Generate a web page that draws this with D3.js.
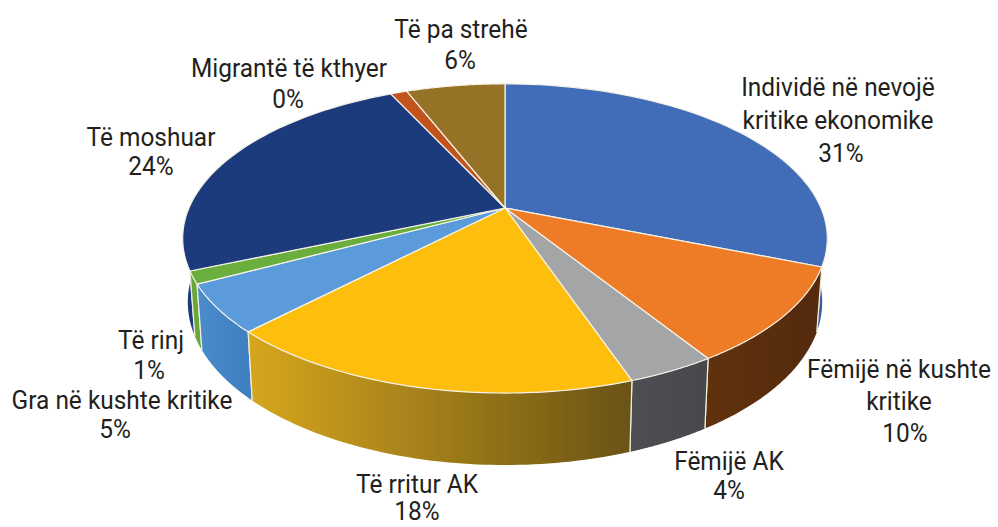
<!DOCTYPE html>
<html><head><meta charset="utf-8">
<script src="https://cdn.jsdelivr.net/npm/d3@7"></script>
<style>html,body{margin:0;padding:0;background:#fff}svg{display:block}
text{font-family:"Roboto","Open Sans",sans-serif;font-size:26px;fill:#231f20;text-anchor:middle}</style>
</head><body><div id="c"></div>
<script>
const categories = ["Individë në nevojë kritike ekonomike","Fëmijë në kushte kritike","Fëmijë AK","Të rritur AK","Gra në kushte kritike","Të rinj","Të moshuar","Migrantë të kthyer","Të pa strehë"];
const values = [31, 10, 3.7, 17.6, 5, 1.3, 24.4, 1, 6];
const percentLabels = ["31%","10%","4%","18%","5%","1%","24%","0%","6%"];
const labelLines = [["Individë në nevojë","kritike ekonomike"],["Fëmijë në kushte","kritike"],["Fëmijë AK"],["Të rritur AK"],["Gra në kushte kritike"],["Të rinj"],["Të moshuar"],["Migrantë të kthyer"],["Të pa strehë"]];
const topColors = ["#3f6cb8","#ee7b27","#a3a5a6","#fdbe10","#5b9bdb","#6bae3d","#1c3b7d","#c2531f","#967228"];
const sideStops = [["#3a5f9f","#3a5f9f"],["#5f3210","#552a0c"],["#4d4f53","#47494d"],["#d6a61f","#6a5314"],["#4a8ccd","#3f7fc0"],["#68a83a","#68a83a"],["#1c3a7c","#1c3a7c"],["#a0441a","#a0441a"],["#7a5c20","#7a5c20"]];
const labelAnchors = [[838,96,33],[899,378,32],[729,470,29],[417,493,27],[122,409,29],[151,349,30],[151,146,29],[289,77,31],[461,38,31]];
const percentOffset = [3,6,0,0,-7,-2,0,-1,-1];

const W=998,H=527,cx=505,cy=208,k=-0.197;
const svg=d3.select("#c").append("svg").attr("width",W).attr("height",H);
const defs=svg.append("defs");
defs.append("filter").attr("id","soft").append("feGaussianBlur").attr("stdDeviation",0.5);
const arcs=d3.pie().sort(null).value(d=>d)(values);
const tx=d3.scaleLinear().domain([-1,1]).range([-316,316]);
const ty=d3.scaleLinear().domain([-1,1]).range([-148.6,148.6]);
const bx=d3.scaleLinear().domain([-1,1]).range([-311,311]);
const by=d3.scaleLinear().domain([-1,1]).range([-156.6,156.6]);
function topPt(a){const u=Math.sin(a),v=-Math.cos(a),d=1+k*v;return [cx+tx(u)/d,cy+ty(v)/d];}
function botPt(a){const u=Math.sin(a),v=-Math.cos(a),d=1+k*v;return [cx+bx(u)/d,cy+62+by(v)/d];}
const line=d3.line();
function samples(s){return d3.range(0,61).map(i=>s.startAngle+(s.endAngle-s.startAngle)*i/60);}

const nearness=arcs.map((s,i)=>({s,i,z:-Math.cos((s.startAngle+s.endAngle)/2)})).sort((a,b)=>a.z-b.z);
arcs.forEach((s,i)=>{
  const g=defs.append("linearGradient").attr("id","sg"+i).attr("gradientUnits","userSpaceOnUse");
  const xs=samples(s).map(a=>topPt(a)[0]);
  g.attr("x1",d3.min(xs)).attr("x2",d3.max(xs)).attr("y1",0).attr("y2",0);
  g.append("stop").attr("offset",0).attr("stop-color",sideStops[i][0]);
  g.append("stop").attr("offset",1).attr("stop-color",sideStops[i][1]);
});
const pie=svg.append("g").attr("filter","url(#soft)");
const sides=pie.append("g");
nearness.forEach(({s,i})=>{
  const ang=samples(s);
  const pts=ang.map(topPt).concat(ang.slice().reverse().map(botPt));
  sides.append("path").attr("d",line(pts)+"Z").attr("fill",`url(#sg${i})`);
  [s.startAngle,s.endAngle].forEach(a=>sides.append("path").attr("d",line([topPt(a),botPt(a)])).attr("stroke","#f4f0e0").attr("stroke-width",1.2).attr("fill","none"));
});
const tops=pie.append("g");
arcs.forEach((s,i)=>{
  const pts=[[cx,cy]].concat(samples(s).map(topPt));
  tops.append("path").attr("d",line(pts)+"Z").attr("fill",topColors[i]).attr("stroke","#f6f3e6").attr("stroke-width",1.2).attr("stroke-linejoin","round");
});
const lab=svg.append("g");
function put(t,x,y){lab.append("text").attr("transform",`translate(${x},${y}) scale(0.94,1)`).text(t);}
categories.forEach((c,i)=>{
  const [x,y,dy]=labelAnchors[i];
  const lines=labelLines[i];
  lines.forEach((t,j)=>put(t,x,y+j*dy));
  put(percentLabels[i],x+percentOffset[i],y+lines.length*dy);
});
</script></body></html>
